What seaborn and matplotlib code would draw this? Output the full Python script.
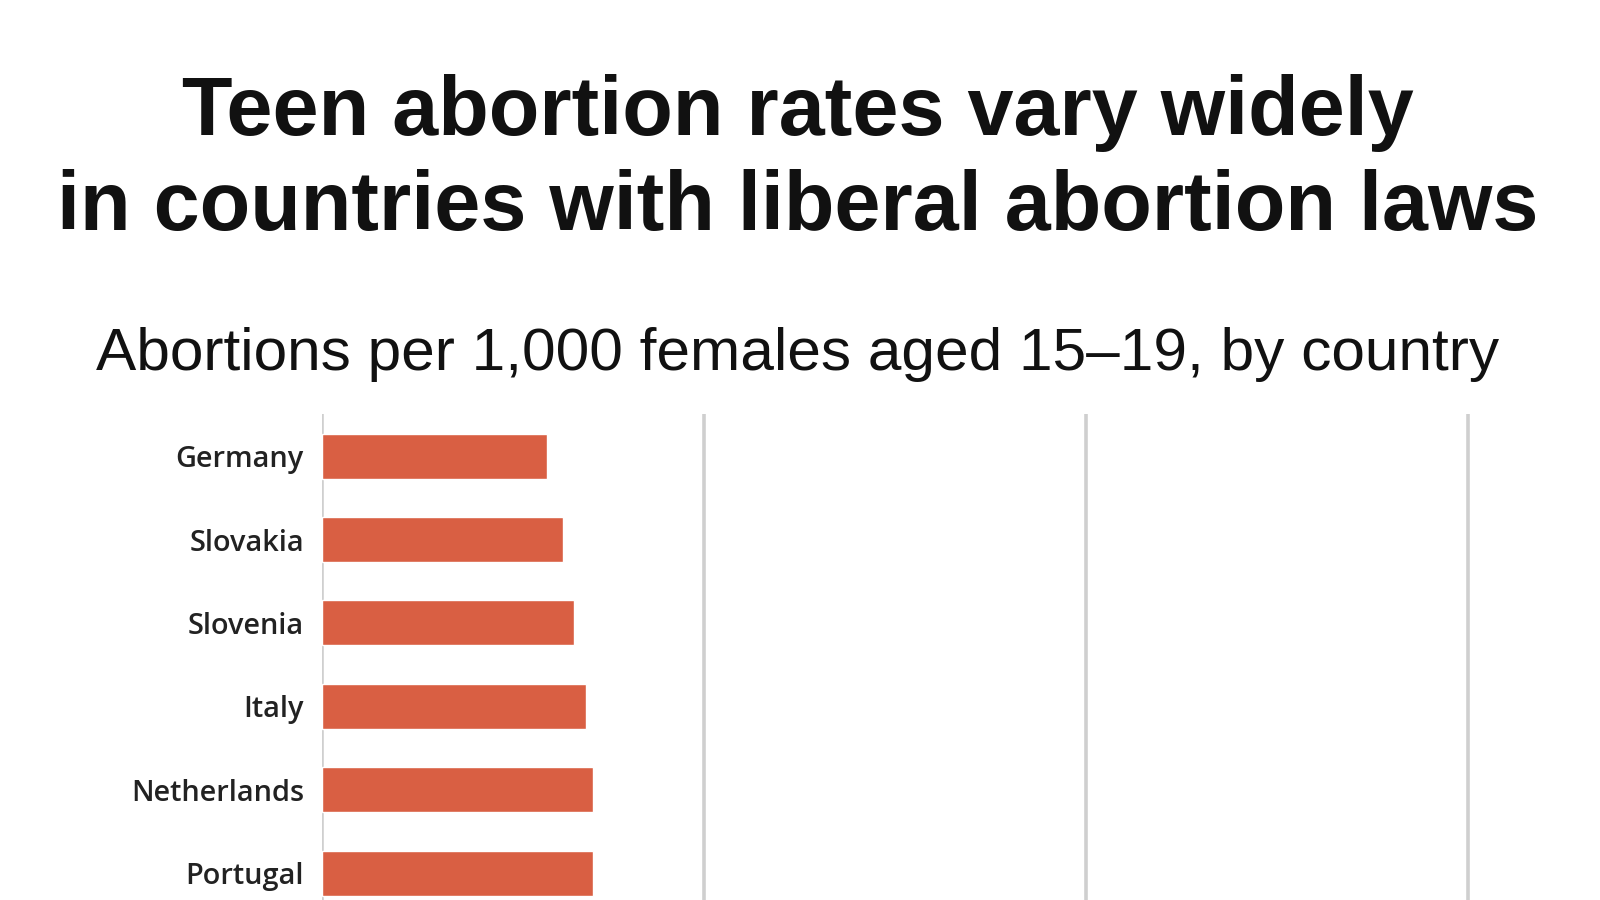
import matplotlib
matplotlib.use("Agg")
import matplotlib.pyplot as plt
import seaborn as sns
import pandas as pd

countries = ["Germany", "Slovakia", "Slovenia", "Italy", "Netherlands", "Portugal"]
rates = [5.9, 6.3, 6.6, 6.9, 7.1, 7.1]
grid_ticks = [0, 10, 20, 30]

title_lines = ["Teen abortion rates vary widely", "in countries with liberal abortion laws"]
subtitle = "Abortions per 1,000 females aged 15\u201319, by country"

sns.set_theme(style="white")
plt.rcParams["font.family"] = ["Liberation Sans", "DejaVu Sans"]

df = pd.DataFrame({"country": countries, "rate": rates})

fig = plt.figure(figsize=(16, 9), dpi=100)
W, H = 1600, 900
left, right = 322, 1600
top, bottom = 414, 900
ax = fig.add_axes([left / W, 1 - bottom / H, (right - left) / W, (bottom - top) / H])

sns.barplot(data=df, x="rate", y="country", orient="h", color="#D95F43",
            saturation=1, width=0.54, ax=ax, zorder=3)

ax.set_xlim(0, 33.46)
ax.set_ylim(5.32, -0.504)
ax.set_xticks(grid_ticks)
ax.xaxis.grid(True, color="#cfcfcf", linewidth=2.6, zorder=0)
ax.tick_params(axis="x", length=0, labelbottom=False)
ax.tick_params(axis="y", length=0, pad=13)
for lbl in ax.get_yticklabels():
    lbl.set_fontfamily(["Open Sans", "DejaVu Sans"])
    lbl.set_fontsize(20.8)
    lbl.set_fontweight(600)
    lbl.set_color("#222222")
for s in ax.spines.values():
    s.set_visible(False)
ax.set_xlabel("")
ax.set_ylabel("")

fig.text(0.4985, 1 - 135 / H, title_lines[0], ha="center", va="baseline", fontsize=59.6,
         fontweight="bold", color="#111111")
fig.text(0.4985, 1 - 230 / H, title_lines[1], ha="center", va="baseline", fontsize=59.6,
         fontweight="bold", color="#111111")
fig.text(0.4985, 1 - 370 / H, subtitle, ha="center", va="baseline", fontsize=43.5,
         color="#111111")

fig.savefig("out.png", dpi=100, facecolor="white")
